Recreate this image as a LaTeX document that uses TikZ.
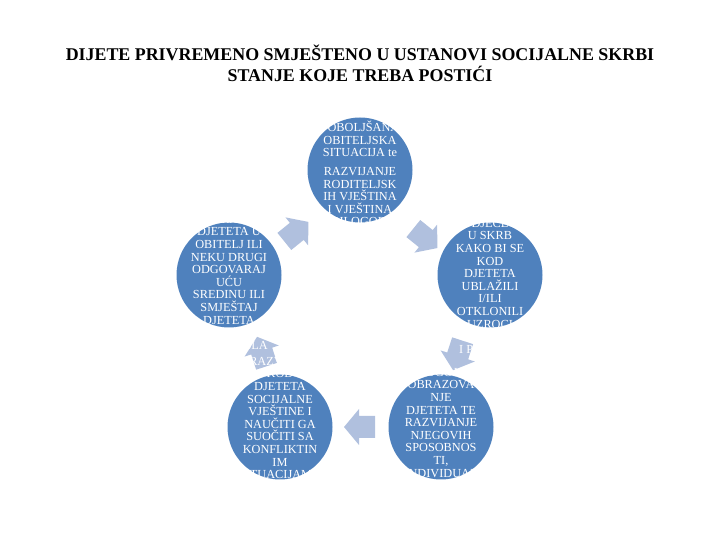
\documentclass[tikz,border=0pt]{standalone}
\usepackage{fontspec}
\setmainfont{Liberation Serif}
\definecolor{circblue}{RGB}{79,129,189}
\definecolor{arrowblue}{RGB}{176,192,222}
\tikzset{
  stage/.style={circle,fill=circblue,minimum size=105pt,inner sep=0pt},
  stagetext/.style={text=white,align=center,inner sep=0pt,font=\fontsize{12.3}{12.6}\selectfont},
  flow/.style={fill=arrowblue}
}
\newcommand{\flowarrow}[3]{%
  \fill[flow,shift={(#1,#2)},rotate=#3]
    (-15,-11) -- (1,-11) -- (1,-18) -- (16,0) -- (1,18) -- (1,11) -- (-15,11) -- cycle;}
\begin{document}
\begin{tikzpicture}[x=1pt,y=1pt]
  \useasboundingbox (0,0) rectangle (720,540);
  \node[font=\bfseries\fontsize{17.9}{21}\selectfont,align=center] (title) at (360,477)
    {DIJETE PRIVREMENO SMJEŠTENO U USTANOVI SOCIJALNE SKRBI\\STANJE KOJE TREBA POSTIĆI};
  % circles
  \node[stage] (top) at (360,370) {};
  \node[stage] (right) at (490,265) {};
  \node[stage] (bright) at (441,113) {};
  \node[stage] (bleft) at (280,113) {};
  \node[stage] (left) at (229,265) {};
  % arrows
  \flowarrow{425}{302}{-39}
  \flowarrow{458}{185}{-108}
  \flowarrow{360}{113}{180}
  \flowarrow{262}{188}{108}
  \flowarrow{296}{308}{39}
  % texts
  \node[stagetext,anchor=north] (ttop) at (360,419)
    {POBOLJŠANA\\OBITELJSKA\\SITUACIJA te\\[6pt]RAZVIJANJE\\RODITELJSK\\IH VJEŠTINA\\I VJEŠTINA\\PRILOGOĐA\\VANJA};
  \node[stagetext,anchor=north] (tright) at (490,336)
    {SMJEŠTAJ\\DJECE\\U SKRB\\KAKO BI SE\\KOD\\DJETETA\\UBLAŽILI\\I/ILI\\OTKLONILI\\UZROCI\\TEŠKOĆA\\I POTICATI};
  \node[stagetext,anchor=north] (tbright) at (441,172)
    {ODGOJ I\\OBRAZOVA\\NJE\\DJETETA TE\\RAZVIJANJE\\NJEGOVIH\\SPOSOBNOS\\TI,\\INDIVIDUAL};
  \node[stagetext,anchor=north] (tbleft) at (280,183)
    {RAZVIJATI\\KOD\\DJETETA\\SOCIJALNE\\VJEŠTINE I\\NAUČITI GA\\SUOČITI SA\\KONFLIKTIN\\IM\\SITUACIJAMA};
  \node[stagetext,anchor=north] (tleft) at (229,325)
    {POVRATAK\\DJETETA U\\OBITELJ ILI\\NEKU DRUGI\\ODGOVARAJ\\UĆU\\SREDINU ILI\\SMJEŠTAJ\\DJETETA\\U DOM\\ZA ODRASLA};
\end{tikzpicture}
\end{document}
